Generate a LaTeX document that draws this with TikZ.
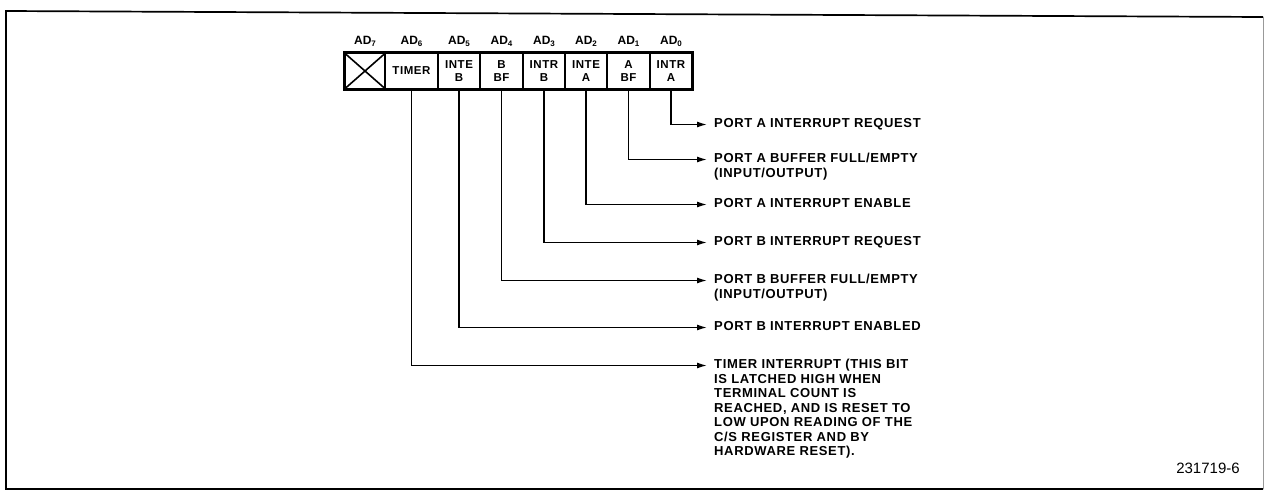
\documentclass[tikz,border=0pt]{standalone}
\usepackage{fontspec}
\setmainfont{Liberation Sans}
\newfontfamily\lblfont[LetterSpace=5]{Liberation Sans}
\usetikzlibrary{arrows.meta}
\tikzset{
  cellbox/.style={draw, line width=1.3pt, minimum height=35pt, inner sep=0pt, align=center,
    font={\lblfont\bfseries\fontsize{11.5}{13.5}\selectfont}},
  adlbl/.style={inner sep=0pt, font={\bfseries\fontsize{12}{14}\selectfont}},
  desc/.style={inner sep=0pt, anchor=north west, align=left,
    font={\lblfont\bfseries\fontsize{13}{14.5}\selectfont}},
  arr/.style={line width=1.4pt, -{Latex[length=10pt,width=6pt]}},
}
\begin{document}
\begin{tikzpicture}[x=1pt,y=-1pt]
\useasboundingbox (0,0) rectangle (1267,498);
% frame
\draw[line width=1.7pt] (1263,17) -- (6,11) -- (6,489) -- (1263,489);
\draw[line width=0.8pt, black!40] (1263,17) -- (1263,489);
% register cells
\node[cellbox, minimum width=40pt] (c7) at (365,71) {};
\node[cellbox, minimum width=53pt] (c6) at (411.5,71) {TIMER};
\node[cellbox, minimum width=42pt] (c5) at (459,71) {INTE\\B};
\node[cellbox, minimum width=43pt] (c4) at (501.5,71) {B\\BF};
\node[cellbox, minimum width=42pt] (c3) at (544,71) {INTR\\B};
\node[cellbox, minimum width=42pt] (c2) at (586,71) {INTE\\A};
\node[cellbox, minimum width=43pt] (c1) at (628.5,71) {A\\BF};
\node[cellbox, minimum width=42pt] (c0) at (671,71) {INTR\\A};
\draw[line width=1.6pt] (c7.north west) -- (c7.south east) (c7.south west) -- (c7.north east);
\draw[line width=2.8pt] (c7.north west) rectangle (c0.south east);
% bit labels
\node[adlbl] (l7) at (365,41) {AD\raisebox{-2pt}{\footnotesize 7}};
\node[adlbl] (l6) at (411.5,41) {AD\raisebox{-2pt}{\footnotesize 6}};
\node[adlbl] (l5) at (459,41) {AD\raisebox{-2pt}{\footnotesize 5}};
\node[adlbl] (l4) at (501.5,41) {AD\raisebox{-2pt}{\footnotesize 4}};
\node[adlbl] (l3) at (544,41) {AD\raisebox{-2pt}{\footnotesize 3}};
\node[adlbl] (l2) at (586,41) {AD\raisebox{-2pt}{\footnotesize 2}};
\node[adlbl] (l1) at (628.5,41) {AD\raisebox{-2pt}{\footnotesize 1}};
\node[adlbl] (l0) at (671,41) {AD\raisebox{-2pt}{\footnotesize 0}};
% descriptions
\node[desc] (t0) at (714,118) {PORT A INTERRUPT REQUEST};
\node[desc] (t1) at (714,153) {PORT A BUFFER FULL/EMPTY\\(INPUT/OUTPUT)};
\node[desc] (t2) at (714,198) {PORT A INTERRUPT ENABLE};
\node[desc] (t3) at (714,236) {PORT B INTERRUPT REQUEST};
\node[desc] (t4) at (714,274) {PORT B BUFFER FULL/EMPTY\\(INPUT/OUTPUT)};
\node[desc] (t5) at (714,321) {PORT B INTERRUPT ENABLED};
\node[desc] (t6) at (714,359) {TIMER INTERRUPT (THIS BIT\\IS LATCHED HIGH WHEN\\TERMINAL COUNT IS\\REACHED, AND IS RESET TO\\LOW UPON READING OF THE\\C/S REGISTER AND BY\\HARDWARE RESET).};
% connectors
\foreach \i in {0,...,6}{
  \draw[arr] (c\i.south) |- ([shift={(-7pt,-6.5pt)}]t\i.north west);
}
\node[inner sep=0pt, font={\fontsize{15}{17}\selectfont}] (fig) at (1208,468) {231719-6};
\end{tikzpicture}
\end{document}
